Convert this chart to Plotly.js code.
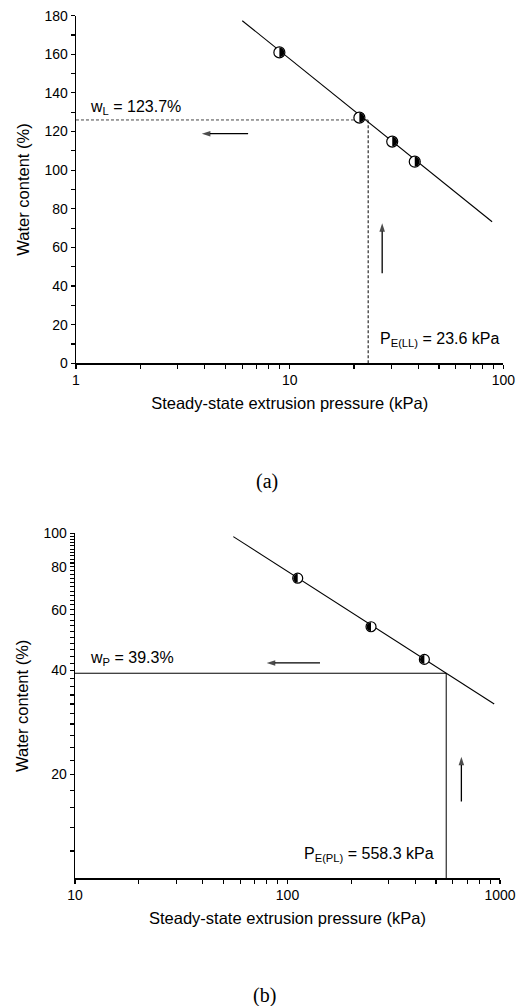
<!DOCTYPE html>
<html><head><meta charset="utf-8">
<script src="https://cdn.plot.ly/plotly-3.0.1.min.js"></script>
<style>html,body{margin:0;padding:0;background:#fff}</style>
</head><body><div id="chart" style="width:528px;height:1006px"></div>
<script>
// ---------- (a) liquid limit ----------
const pressureA = [8.95, 21.2, 30.2, 38.5];
const waterA = [161, 127.2, 114.8, 104.4];
const fitPressureA = [6.0, 88.6];
const fitWaterA = [177.4, 73.3];
const PE_LL = 23.3;
const wL_level = 126;
const arrowA_h = {x: [6.39, 3.88], y: [118.9, 118.9]};
const arrowA_v = {x: [27.1, 27.1], y: [46.6, 72.5]};
const xTicksA = [1, 2, 3, 4, 5, 6, 7, 8, 9, 10, 20, 30, 40, 50, 60, 70, 80, 90, 100];
const xTickTextA = ['1', '', '', '', '', '', '', '', '', '10', '', '', '', '', '', '', '', '', '100'];
const yTicksA = [0, 10, 20, 30, 40, 50, 60, 70, 80, 90, 100, 110, 120, 130, 140, 150, 160, 170, 180];
const yTickTextA = ['0', '', '20', '', '40', '', '60', '', '80', '', '100', '', '120', '', '140', '', '160', '', '180'];

// ---------- (b) plastic limit ----------
const pressureB = [111.7, 247.2, 440.6];
const waterB = [74.1, 53.6, 43.1];
const fitPressureB = [55.6, 939];
const fitWaterB = [97.8, 32.0];
const PE_PL = 558.3;
const wP_level = 39.3;
const arrowB_h = {x: [142.2, 79.8], y: [42.1, 42.1]};
const arrowB_v = {x: [657.9, 657.9], y: [16.7, 22.5]};
const xTicksB = [10, 20, 30, 40, 50, 60, 70, 80, 90, 100, 200, 300, 400, 500, 600, 700, 800, 900, 1000];
const xTickTextB = ['10', '', '', '', '', '', '', '', '', '100', '', '', '', '', '', '', '', '', '1000'];
const yTicksB = [12, 14, 16, 18, 20, 22, 24, 26, 28, 30, 32, 34, 36, 38, 40, 42, 44, 46, 48, 50, 52, 54, 56, 58,
                 60, 62, 64, 66, 68, 70, 72, 74, 76, 78, 80, 82, 84, 86, 88, 90, 92, 94, 96, 98, 100];
const yMajorB = [20, 40, 60, 80, 100];
const yTickTextB = yTicksB.map(v => (yMajorB.includes(v) ? String(v) : ''));

const SANS = 'Liberation Sans, Arial, sans-serif';
const SERIF = 'Liberation Serif, Times New Roman, serif';

function arrowTrace(a, xa, ya) {
  return {x: a.x, y: a.y, mode: 'lines+markers', xaxis: xa, yaxis: ya, cliponaxis: false,
          line: {color: '#000', width: 1.3},
          marker: {symbol: 'arrow', angleref: 'previous', size: [0, 9], color: '#000', line: {width: 0}}};
}

const traces = [
  // (a)
  {x: fitPressureA, y: fitWaterA, mode: 'lines', line: {color: '#000', width: 1.1}, xaxis: 'x', yaxis: 'y'},
  {x: [1, PE_LL], y: [wL_level, wL_level], mode: 'lines', line: {color: '#444', width: 1, dash: '3px,2px'}, xaxis: 'x', yaxis: 'y', cliponaxis: false},
  {x: [PE_LL, PE_LL], y: [0, wL_level], mode: 'lines', line: {color: '#000', width: 1, dash: '3px,2px'}, xaxis: 'x', yaxis: 'y', cliponaxis: false},
  arrowTrace(arrowA_h, 'x', 'y'),
  arrowTrace(arrowA_v, 'x', 'y'),
  {x: pressureA, y: waterA, mode: 'markers', uid: 'ptsA', marker: {symbol: 'circle', size: 11, color: '#fff', line: {color: '#000', width: 1.2}}, xaxis: 'x', yaxis: 'y'},
  // (b)
  {x: fitPressureB, y: fitWaterB, mode: 'lines', line: {color: '#000', width: 1.1}, xaxis: 'x2', yaxis: 'y2'},
  {x: [10, PE_PL], y: [wP_level, wP_level], mode: 'lines', line: {color: '#000', width: 1}, xaxis: 'x2', yaxis: 'y2', cliponaxis: false},
  {x: [PE_PL, PE_PL], y: [10, wP_level], mode: 'lines', line: {color: '#000', width: 1}, xaxis: 'x2', yaxis: 'y2', cliponaxis: false},
  arrowTrace(arrowB_h, 'x2', 'y2'),
  arrowTrace(arrowB_v, 'x2', 'y2'),
  {x: pressureB, y: waterB, mode: 'markers', uid: 'ptsB', marker: {symbol: 'circle', size: 10, color: '#fff', line: {color: '#000', width: 1.2}}, xaxis: 'x2', yaxis: 'y2'}
];

const axBase = {
  showline: true, linecolor: '#000', linewidth: 1.3, mirror: false,
  showgrid: false, zeroline: false, ticks: 'outside', ticklen: 4, tickwidth: 1.1, tickcolor: '#000',
  tickfont: {family: SANS, size: 14, color: '#000'}, fixedrange: true, tickmode: 'array'
};
const xTitle = {text: 'Steady-state extrusion pressure (kPa)', font: {family: SANS, size: 16.5, color: '#000'}, standoff: 10};
const yTitle = {text: 'Water content (%)', font: {family: SANS, size: 16.5, color: '#000'}, standoff: 10};

const layout = {
  width: 528, height: 1006,
  margin: {l: 0, r: 0, t: 0, b: 0},
  paper_bgcolor: '#fff', plot_bgcolor: '#fff',
  showlegend: false,
  xaxis: Object.assign({}, axBase, {type: 'log', range: [0, 2], domain: [0.1439, 0.9533], anchor: 'y',
    tickvals: xTicksA, ticktext: xTickTextA, title: xTitle}),
  yaxis: Object.assign({}, axBase, {range: [0, 180], domain: [0.6389, 0.9844], anchor: 'x',
    tickvals: yTicksA, ticktext: yTickTextA, title: yTitle}),
  xaxis2: Object.assign({}, axBase, {type: 'log', range: [1, 3], domain: [0.142, 0.947], anchor: 'y2',
    tickvals: xTicksB, ticktext: xTickTextB, title: xTitle}),
  yaxis2: Object.assign({}, axBase, {type: 'log', range: [1, 2], domain: [0.1269, 0.4699], anchor: 'x2',
    tickvals: yTicksB, ticktext: yTickTextB, title: yTitle}),
  annotations: [
    {xref: 'x', yref: 'y', x: 0.0562, y: 132.7, xanchor: 'left', yanchor: 'middle', showarrow: false,
     text: 'w<sub>L</sub> = 123.7%', font: {family: SANS, size: 16, color: '#000'}},
    {xref: 'x', yref: 'y', x: 1.4139, y: 12.1, xanchor: 'left', yanchor: 'middle', showarrow: false,
     text: 'P<sub>E(LL)</sub> = 23.6 kPa', font: {family: SANS, size: 16, color: '#000'}},
    {xref: 'x2', yref: 'y2', x: 1.0626, y: 1.6377, xanchor: 'left', yanchor: 'middle', showarrow: false,
     text: 'w<sub>P</sub> = 39.3%', font: {family: SANS, size: 16, color: '#000'}},
    {xref: 'x2', yref: 'y2', x: 2.0697, y: 1.0704, xanchor: 'left', yanchor: 'middle', showarrow: false,
     text: 'P<sub>E(PL)</sub> = 558.3 kPa', font: {family: SANS, size: 16, color: '#000'}},
    {xref: 'paper', yref: 'paper', x: 0.5053, y: 0.5214, xanchor: 'center', yanchor: 'middle', showarrow: false,
     text: '(a)', font: {family: SERIF, size: 20, color: '#000'}},
    {xref: 'paper', yref: 'paper', x: 0.501, y: 0.0105, xanchor: 'center', yanchor: 'middle', showarrow: false,
     text: '(b)', font: {family: SERIF, size: 20, color: '#000'}}
  ]
};

function halfFill(uid, side) {
  const groups = document.querySelectorAll('.scatterlayer .trace');
  groups.forEach(g => {
    if (!(g.getAttribute('class') || '').includes(uid)) return;
    g.querySelectorAll('path.point').forEach(p => {
      const t = p.getAttribute('transform');
      const bb = p.getBBox();
      const r = bb.width / 2 - 0.6;
      const sweep = side === 'right' ? 1 : 0;
      const h = document.createElementNS('http://www.w3.org/2000/svg', 'path');
      h.setAttribute('d', 'M0,' + (-r) + 'A' + r + ',' + r + ' 0 0,' + sweep + ' 0,' + r + 'Z');
      h.setAttribute('transform', t);
      h.setAttribute('style', 'fill:#000;stroke:none');
      p.parentNode.appendChild(h);
    });
  });
}

Plotly.newPlot('chart', traces, layout, {displayModeBar: false, staticPlot: true}).then(() => {
  halfFill('ptsA', 'right');
  halfFill('ptsB', 'left');
});
</script>
</body></html>
